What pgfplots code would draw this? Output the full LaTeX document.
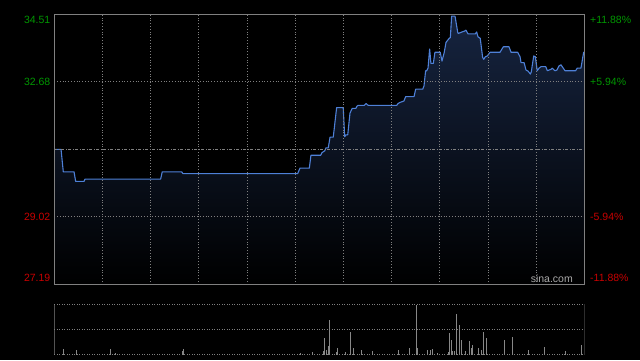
\documentclass[border=0pt]{standalone}
\usepackage{pgfplots}
\pgfplotsset{compat=1.18}
\usepackage{pgfplotstable}
\usepackage{fontspec}
\setmainfont{Liberation Sans}
\definecolor{framec}{RGB}{128,128,128}
\definecolor{linec}{RGB}{78,128,215}
\definecolor{fillc}{RGB}{22,36,64}
\definecolor{upg}{RGB}{0,150,0}
\definecolor{dnr}{RGB}{200,0,0}
\definecolor{volc}{RGB}{135,135,135}
\definecolor{sinac}{RGB}{170,170,170}

\pgfplotstableread{
t p
0 30.85
4.2 30.85
5.6 30.24
12.3 30.24
13.3 29.98
18.5 29.98
19.1 30.04
66.2 30.04
67.2 30.24
79.3 30.24
80.1 30.19
151.5 30.19
153.0 30.34
158.8 30.34
159.8 30.69
165.9 30.69
166.7 30.76
168.4 30.81
169.2 30.89
170.6 30.89
171.7 31.18
173.7 31.18
175.4 31.83
175.8 31.98
179.9 31.98
180.8 31.19
181.6 31.24
182.7 31.24
184.1 31.83
185.5 31.96
187.8 31.96
188.5 32.02
189.1 32.04
193.0 32.04
194.1 32.09
195.5 32.04
213.2 32.04
214.0 32.09
215.2 32.12
217.7 32.16
218.8 32.28
224.0 32.28
225.0 32.48
229.4 32.48
230.2 32.57
231.2 32.98
231.9 32.98
232.7 33.05
233.7 33.57
234.5 33.18
236.0 33.18
237.0 33.48
240.3 33.48
241.4 33.24
242.8 33.48
243.9 33.75
245.9 33.86
246.6 33.88
247.4 34.46
249.5 34.46
251.2 34.02
251.5 33.99
253.2 34.02
255.7 34.06
256.3 34.08
257.6 33.98
262.1 33.98
263.0 34.03
263.8 33.90
265.2 33.86
266.7 33.34
267.4 33.29
268.4 33.36
269.6 33.38
271.3 33.48
277.5 33.48
279.6 33.63
283.1 33.63
284.4 33.48
288.5 33.48
290.0 33.36
290.6 33.20
292.5 33.20
293.7 33.00
295.0 32.97
296.4 32.89
297.0 32.95
298.5 33.38
299.5 33.36
300.7 32.98
301.8 33.05
303.0 33.09
306.0 33.09
307.0 32.98
309.3 33.02
310.1 33.05
311.7 32.98
313.0 33.00
314.2 33.11
315.5 33.14
316.9 33.05
318.0 32.98
324.6 32.98
325.6 33.05
327.9 33.05
329.6 33.48
330 33.48
}\pricetab

\pgfplotstableread{
t v
5.6 5.7
13.7 4.7
34.9 5.7
38.0 1.7
79.9 4.0
80.3 5.7
153.0 1.7
160.6 2.7
167.5 4.0
168.1 16.7
169.2 4.7
170.6 8.7
171.2 34.7
175.8 2.7
176.2 6.7
181.2 2.7
184.3 22.7
186.2 6.7
191.1 4.7
198.0 3.7
214.2 4.7
221.0 6.7
225.4 49.7
226.0 6.7
232.2 4.7
233.9 4.7
235.4 5.7
238.5 1.7
245.3 2.7
245.9 21.4
247.2 14.7
248.0 3.7
249.0 3.7
250.7 40.7
252.0 29.7
253.4 14.7
255.9 3.7
258.4 13.7
259.5 6.7
260.3 9.7
264.0 6.7
265.9 4.7
267.1 22.7
269.0 16.7
280.2 14.7
285.2 17.7
295.0 5.0
305.0 8.0
318.0 4.0
328.0 10.0
}\voltab

\begin{document}
\begin{tikzpicture}
\fill[black] (0pt,0pt) rectangle (640pt,360pt);
\begin{axis}[
  at={(54.3pt,75.7pt)}, anchor=south west, scale only axis,
  width=530pt, height=270pt,
  xmin=0, xmax=330, ymin=27.19, ymax=34.51,
  axis line style={draw=framec, line width=0.8pt},
  xtick={30,60,...,300}, ytick={29.02,32.68},
  xticklabels={}, yticklabels={},
  major tick length=0pt,
  grid=major,
  major grid style={draw=framec, line width=0.8pt, dash pattern=on 0.8pt off 2pt},
  extra y ticks={30.85}, extra y tick labels={},
  extra y tick style={grid=major, major grid style={draw=framec, line width=0.8pt, dash pattern=on 3pt off 1.5pt on 1pt off 1.5pt}},
  axis on top,
]
\addplot[top color=fillc, bottom color=black, draw=none] table[x=t,y=p] {\pricetab} \closedcycle;
\addplot[linec, line width=1.1pt, line join=round] table[x=t,y=p] {\pricetab};
\end{axis}

\begin{axis}[
  at={(54.3pt,5.3pt)}, anchor=south west, scale only axis,
  width=530pt, height=50.4pt,
  xmin=0, xmax=330, ymin=0, ymax=50.4,
  axis line style={draw=none},
  xtick=\empty, ytick={0,25.2,50.4}, yticklabels={},
  major tick length=0pt,
  ymajorgrids,
  major grid style={draw=framec, line width=1pt, dash pattern=on 1pt off 1.5pt},
]
\addplot[ycomb, volc, line width=0.9pt] table[x=t,y=v] {\voltab};
\draw[framec, line width=0.8pt] (rel axis cs:0,0) -- (rel axis cs:0,1);
\draw[framec, line width=0.8pt] (rel axis cs:1,0) -- (rel axis cs:1,1);
\end{axis}

\fontsize{10.5}{12}\selectfont
\node[anchor=east, inner sep=0, text=upg] at (50.5pt,340pt) {34.51};
\node[anchor=east, inner sep=0, text=upg] at (50.5pt,277.7pt) {32.68};
\node[anchor=east, inner sep=0, text=dnr] at (50.5pt,142.7pt) {29.02};
\node[anchor=east, inner sep=0, text=dnr] at (50.5pt,82pt) {27.19};
\node[anchor=west, inner sep=0, text=upg] at (590pt,340pt) {+11.88\%};
\node[anchor=west, inner sep=0, text=upg] at (590pt,277.7pt) {+5.94\%};
\node[anchor=west, inner sep=0, text=dnr] at (590pt,142.7pt) {-5.94\%};
\node[anchor=west, inner sep=0, text=dnr] at (590pt,82pt) {-11.88\%};
\node[anchor=east, inner sep=0, text=sinac] at (573pt,81.5pt) {sina.com};
\pgfresetboundingbox
\useasboundingbox (0pt,0pt) rectangle (640pt,360pt);
\end{tikzpicture}
\end{document}
